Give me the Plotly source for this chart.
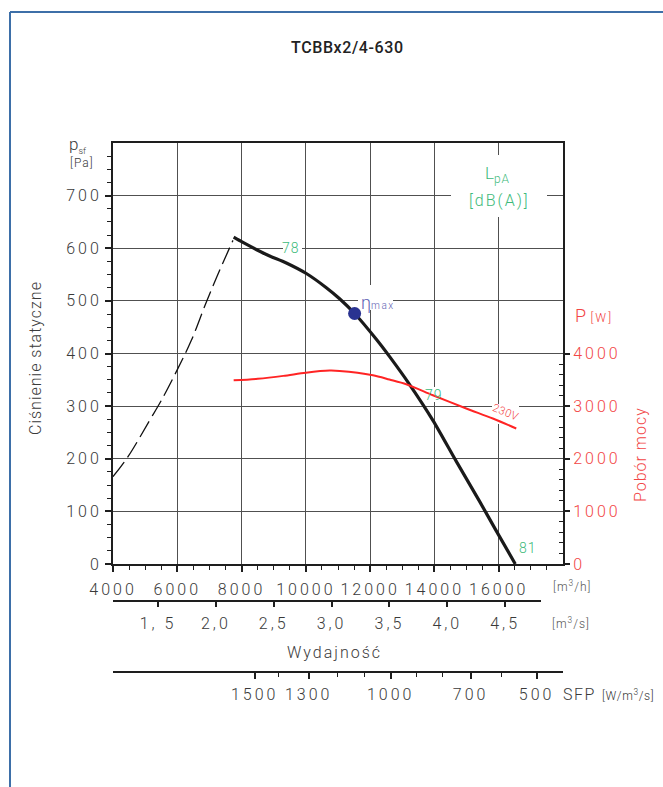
import plotly.graph_objects as go

# ---------------- data ----------------
flow_ps = [7754, 8043, 8771, 9393, 10015, 10637, 11050, 11517, 12192, 12606, 13228, 13952, 14680, 15405, 15924, 16515]
ps_pa = [621, 611, 588, 572, 552, 525, 504, 476, 427, 394, 341, 273, 195, 119, 63, 0]

flow_stall = [4000, 4467, 5141, 5505, 5990, 6438, 6905, 7318, 7732]
ps_stall = [166, 204, 273, 311, 368, 425, 498, 558, 615]

flow_pw = [7754, 8500, 9300, 10000, 10740, 11050, 12086, 12600, 13124, 13952, 14990, 15818, 16546]
power_w = [3490, 3520, 3575, 3635, 3675, 3668, 3586, 3505, 3416, 3207, 2955, 2765, 2575]

eta_flow = [11517]
eta_ps = [476]

flow_ticks = [4000, 6000, 8000, 10000, 12000, 14000, 16000]
flow_labels = ["4000", "6000", "8000", "10000", "12000", "14000", "16000"]
ps_ticks = [0, 100, 200, 300, 400, 500, 600, 700]
ps_labels = ["0", "100", "200", "300", "400", "500", "600", "700"]
pw_ticks = [0, 1000, 2000, 3000, 4000]
pw_labels = ["0", "1000", "2000", "3000", "4000"]
qs_ticks = [1.5, 2.0, 2.5, 3.0, 3.5, 4.0, 4.5]
qs_labels = ["1, 5", "2,0", "2,5", "3,0", "3,5", "4,0", "4,5"]
sfp_labels = ["1500", "1300", "1000", "700", "500"]
sfp_major_flow = [8407, 10087, 12639, 15127, 17180]
sfp_minor_flow = [9154, 10990, 11830, 13448, 14256, 16091]

label_78 = (9532, 600)
label_79 = (13976, 322)
label_81 = (16905, 30)
label_230 = (16222, 288)
label_eta = (12246, 497)

# ---------------- layout helpers ----------------
W, H = 663, 787
L, R, T, B = 113, 100, 143, 87
PW = W - L - R
PH = H - T - B
XMIN, XMAX = 4000, 18000
YMAX = 800
PLOT_BOTTOM = 564


def fx(px):
    return (px - L) / PW


def fy(py):
    return (H - B - py) / PH


def dx(px):
    return XMIN + (px - L) / PW * (XMAX - XMIN)


def dy(py):
    return (PLOT_BOTTOM - py) / (PLOT_BOTTOM - T) * YMAX


def sp(s, ls=3):
    return f"<span style='letter-spacing:{ls}px'>{s}</span>"


ydom0 = fy(PLOT_BOTTOM)
x2_end = fx(541)
x2_range = [XMIN / 3600, (XMIN + x2_end * (XMAX - XMIN)) / 3600]

FONT = "Roboto"
TXT = "#3a3a3a"
RED = "#f24545"
GREEN = "#3dba7a"
GRID = "#505050"
AX = "#1e1e1e"

fig = go.Figure()
fig.add_trace(go.Scatter(x=flow_stall, y=ps_stall, mode="lines", line_shape="spline",
                         line=dict(color="#111111", width=1.3, dash="18px,6px"),
                         showlegend=False, hoverinfo="skip"))
fig.add_trace(go.Scatter(x=flow_ps, y=ps_pa, mode="lines",
                         line=dict(color="#1a1a1a", width=3.2, shape="spline", smoothing=0.8),
                         showlegend=False))
fig.add_trace(go.Scatter(x=flow_pw, y=power_w, yaxis="y2", mode="lines",
                         line=dict(color="#ff2424", width=2, shape="spline", smoothing=0.8),
                         showlegend=False))
fig.add_trace(go.Scatter(x=eta_flow, y=eta_ps, mode="markers",
                         marker=dict(color="#2a3391", size=13), showlegend=False))
fig.add_trace(go.Scatter(x=[None], y=[None], xaxis="x2", yaxis="y3",
                         showlegend=False, hoverinfo="skip"))
fig.add_trace(go.Scatter(x=[None], y=[None], xaxis="x3", showlegend=False, hoverinfo="skip"))

tickfont = dict(family=FONT, size=16, color=TXT, weight=300)

minor_x = [v for v in range(4500, 18000, 500) if v not in flow_ticks]
minor_y = [v for v in range(25, 800, 25) if v % 100 != 0]
minor_y2 = [v for v in range(200, 4000, 200) if v % 1000 != 0]

fig.update_layout(
    width=W, height=H,
    margin=dict(l=L, r=R, t=T, b=B),
    paper_bgcolor="white", plot_bgcolor="rgba(0,0,0,0)",
    xaxis=dict(domain=[0, 1], range=[XMIN, XMAX], anchor="y",
               tickmode="array", tickvals=flow_ticks, ticktext=[sp(s) for s in flow_labels],
               ticks="outside", ticklen=6,
               tickwidth=1.5, tickcolor=AX, tickfont=tickfont, ticklabelstandoff=4,
               showgrid=True, gridcolor=GRID, gridwidth=1.4,
               showline=True, linecolor=AX, linewidth=2, mirror=True, zeroline=False,
               minor=dict(tickmode="array", tickvals=minor_x, ticks="outside",
                          ticklen=4, tickwidth=1.3, tickcolor=AX, showgrid=False)),
    yaxis=dict(domain=[ydom0, 1], range=[0, YMAX], anchor="x",
               tickmode="array", tickvals=ps_ticks, ticktext=[sp(s) for s in ps_labels],
               ticks="outside", ticklen=6,
               tickwidth=1.5, tickcolor=AX, tickfont=tickfont, ticklabelstandoff=0,
               showgrid=True, gridcolor=GRID, gridwidth=1.4,
               showline=True, linecolor=AX, linewidth=2, mirror=True, zeroline=False,
               minor=dict(tickmode="array", tickvals=minor_y, ticks="outside",
                          ticklen=4, tickwidth=1.3, tickcolor=AX, showgrid=False)),
    yaxis2=dict(overlaying="y", side="right", range=[0, YMAX * 10],
                tickmode="array", tickvals=pw_ticks, ticktext=[sp(s) for s in pw_labels],
                ticks="outside", ticklen=5,
                tickwidth=1.5, tickcolor=AX,
                tickfont=dict(family=FONT, size=16, color=RED, weight=300),
                showgrid=False, showline=True, linecolor=AX, linewidth=2, zeroline=False,
                minor=dict(tickmode="array", tickvals=minor_y2, ticks="inside",
                           ticklen=4, tickwidth=1.3, tickcolor=AX, showgrid=False)),
    yaxis3=dict(domain=[0, 0.004], anchor="x2", visible=False, range=[0, 1]),
    xaxis2=dict(domain=[0, x2_end], range=x2_range, anchor="free", position=fy(601),
                tickmode="array", tickvals=qs_ticks, ticktext=[sp(s) for s in qs_labels],
                ticks="outside", ticklen=5, tickwidth=1.5, tickcolor=AX,
                tickfont=tickfont, ticklabelstandoff=3, showgrid=False,
                showline=True, linecolor=AX, linewidth=2, zeroline=False),
    xaxis3=dict(overlaying="x", range=[XMIN, XMAX], anchor="free", position=fy(672),
                tickmode="array", tickvals=sfp_major_flow, ticktext=[sp(s) for s in sfp_labels],
                ticks="outside", ticklen=6, tickwidth=1.5, tickcolor=AX,
                tickfont=tickfont, ticklabelstandoff=2, showgrid=False,
                showline=True, linecolor=AX, linewidth=2, zeroline=False,
                minor=dict(tickmode="array", tickvals=sfp_minor_flow, ticks="outside",
                           ticklen=4, tickwidth=1.3, tickcolor=AX, showgrid=False)),
)

# white masks that break the grid behind labels (between grid and traces)
masks = [(451, 155, 547, 217), (283, 241, 302, 255), (427, 387, 443, 402),
         (492, 404, 519, 424), (358, 285, 393, 310)]
shapes = []
for x0, y0, x1, y1 in masks:
    shapes.append(dict(type="rect", xref="x", yref="y",
                       x0=dx(x0), x1=dx(x1), y0=dy(y1), y1=dy(y0),
                       fillcolor="white", line=dict(width=0), layer="between"))
# outer frame
shapes.append(dict(type="line", xref="paper", yref="paper", x0=fx(10), x1=fx(663),
                   y0=fy(12), y1=fy(12), line=dict(color="#3d6fa8", width=2)))
shapes.append(dict(type="line", xref="paper", yref="paper", x0=fx(10), x1=fx(10),
                   y0=fy(12), y1=fy(787), line=dict(color="#3d6fa8", width=2)))
fig.update_layout(shapes=shapes)


def pa(text, px, py, size=16, color=TXT, xanchor="center", yanchor="middle", angle=0, weight=300):
    return dict(text=text, xref="paper", yref="paper", x=fx(px), y=fy(py),
                xanchor=xanchor, yanchor=yanchor, showarrow=False, textangle=angle,
                font=dict(family=FONT, size=size, color=color, weight=weight))


def da(text, pt, size=14, color=GREEN, angle=0):
    return dict(text=text, xref="x", yref="y", x=pt[0], y=pt[1], showarrow=False,
                textangle=angle, font=dict(family=FONT, size=size, color=color, weight=300))


ann = [
    pa(sp("TCBBx2/4-630", 0.6), 347, 48, size=16, color="#222222", weight=500),
    pa("p<sub><span style='font-size:9px'>sf</span></sub>", 78, 145, size=17),
    pa(sp("[Pa]", 1), 82, 163, size=12),
    pa(sp("Ciśnienie statyczne", 1), 35, 358, size=16, angle=-90),
    pa("L<sub><span style='letter-spacing:1px'>pA</span></sub>", 497, 175, size=17, color=GREEN),
    pa(sp("[dB(A)]", 2), 499, 200, size=16, color=GREEN),
    pa("P <span style='font-size:12px;letter-spacing:2px'>[W]</span>", 594, 315,
       size=18, color=RED),
    pa(sp("Pobór mocy", 1), 640, 455, size=16, color=RED, angle=-90),
    pa(sp("[m<sup>3</sup>/h]", 1), 572, 586, size=12, color="#555555"),
    pa(sp("[m<sup>3</sup>/s]", 1), 571, 623, size=12, color="#555555"),
    pa(sp("Wydajność", 2), 334, 652, size=16),
    pa(sp("SFP", 1.5), 561, 694, size=16, xanchor="left"),
    pa(sp("[W/m<sup>3</sup>/s]", 0.6), 600, 695, size=12, xanchor="left"),
    da(sp("78", 1), label_78),
    da(sp("79", 1), label_79),
    da(sp("81", 1), label_81),
    da(sp("230V", 0.5), label_230, size=11, color=RED, angle=22),
    da("<span style='font-size:18px'>η</span><span style='font-size:10px;letter-spacing:1.5px'>max</span>",
       label_eta, size=15, color="#6262b4"),
]
fig.update_layout(annotations=ann)

fig.write_html("out.html", config={"displayModeBar": False},
               post_script="document.body.style.margin='0px';")
